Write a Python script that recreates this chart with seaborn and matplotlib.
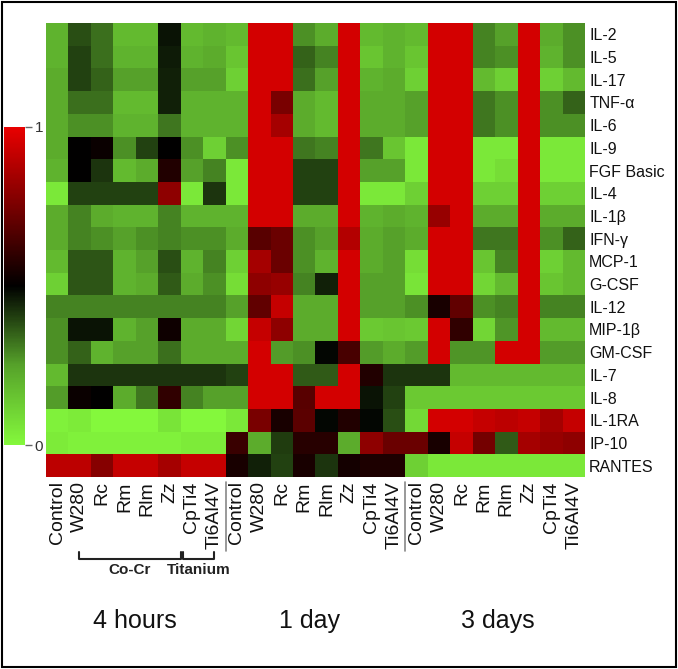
import numpy as np
import pandas as pd
import matplotlib
matplotlib.use("Agg")
import matplotlib.pyplot as plt
import seaborn as sns
from matplotlib.colors import LinearSegmentedColormap
from matplotlib.patches import Rectangle

sns.set_style("white")
plt.rcParams['font.family'] = ['Liberation Sans', 'DejaVu Sans']

# cytokines (rows) and materials (columns in each time block)
cytokines = ["IL-2", "IL-5", "IL-17", "TNF-α", "IL-6", "IL-9", "FGF Basic", "IL-4",
             "IL-1β", "IFN-γ", "MCP-1", "G-CSF", "IL-12", "MIP-1β", "GM-CSF",
             "IL-7", "IL-8", "IL-1RA", "IP-10", "RANTES"]
materials = ["Control", "W280", "Rc", "Rm", "Rlm", "Zz", "CpTi4", "Ti6Al4V"]
timepoints = ["4 hours", "1 day", "3 days"]

# normalised expression, 4 hours
h4 = [
    [0.20, 0.38, 0.33, 0.18, 0.18, 0.47, 0.18, 0.20],
    [0.20, 0.40, 0.33, 0.20, 0.20, 0.46, 0.20, 0.22],
    [0.22, 0.40, 0.35, 0.25, 0.25, 0.45, 0.25, 0.25],
    [0.22, 0.33, 0.33, 0.18, 0.18, 0.45, 0.20, 0.20],
    [0.22, 0.28, 0.28, 0.20, 0.20, 0.32, 0.20, 0.20],
    [0.22, 0.50, 0.52, 0.28, 0.40, 0.50, 0.28, 0.12],
    [0.20, 0.50, 0.42, 0.18, 0.22, 0.57, 0.25, 0.30],
    [0.05, 0.40, 0.40, 0.40, 0.40, 0.80, 0.05, 0.42],
    [0.22, 0.30, 0.22, 0.20, 0.20, 0.30, 0.20, 0.20],
    [0.22, 0.30, 0.28, 0.25, 0.28, 0.30, 0.28, 0.28],
    [0.18, 0.37, 0.37, 0.20, 0.25, 0.38, 0.20, 0.30],
    [0.12, 0.37, 0.37, 0.20, 0.22, 0.36, 0.22, 0.28],
    [0.30, 0.30, 0.30, 0.30, 0.30, 0.30, 0.30, 0.30],
    [0.28, 0.47, 0.47, 0.20, 0.25, 0.53, 0.22, 0.22],
    [0.28, 0.35, 0.20, 0.25, 0.25, 0.33, 0.22, 0.22],
    [0.18, 0.42, 0.42, 0.42, 0.42, 0.42, 0.42, 0.42],
    [0.26, 0.52, 0.50, 0.22, 0.32, 0.60, 0.30, 0.25],
    [0.02, 0.04, 0.00, 0.00, 0.00, 0.06, 0.00, 0.00],
    [0.04, 0.02, 0.02, 0.02, 0.02, 0.02, 0.04, 0.04],
    [0.90, 0.90, 0.78, 0.92, 0.92, 0.85, 0.92, 0.92],
]

# 1 day
d1 = [
    [0.18, 0.95, 0.95, 0.28, 0.22, 0.95, 0.18, 0.20],
    [0.15, 0.95, 0.95, 0.35, 0.30, 0.95, 0.15, 0.20],
    [0.12, 0.95, 0.95, 0.33, 0.25, 0.95, 0.20, 0.22],
    [0.20, 0.95, 0.75, 0.22, 0.18, 0.95, 0.22, 0.22],
    [0.20, 0.95, 0.85, 0.22, 0.18, 0.95, 0.22, 0.22],
    [0.28, 0.95, 0.95, 0.32, 0.30, 0.95, 0.32, 0.15],
    [0.05, 0.95, 0.95, 0.40, 0.40, 0.95, 0.25, 0.25],
    [0.05, 0.95, 0.95, 0.40, 0.40, 0.95, 0.05, 0.05],
    [0.20, 0.95, 0.95, 0.22, 0.22, 0.95, 0.20, 0.22],
    [0.22, 0.68, 0.72, 0.28, 0.25, 0.88, 0.22, 0.25],
    [0.12, 0.85, 0.72, 0.28, 0.20, 0.95, 0.22, 0.25],
    [0.08, 0.80, 0.82, 0.30, 0.45, 0.95, 0.25, 0.25],
    [0.25, 0.70, 0.92, 0.22, 0.22, 0.95, 0.25, 0.25],
    [0.10, 0.92, 0.80, 0.22, 0.22, 0.95, 0.14, 0.15],
    [0.22, 0.95, 0.26, 0.28, 0.49, 0.65, 0.26, 0.22],
    [0.40, 0.95, 0.95, 0.36, 0.36, 0.95, 0.57, 0.42],
    [0.25, 0.95, 0.95, 0.68, 0.95, 0.95, 0.47, 0.40],
    [0.05, 0.75, 0.55, 0.69, 0.49, 0.57, 0.49, 0.38],
    [0.62, 0.22, 0.41, 0.58, 0.58, 0.22, 0.80, 0.72],
    [0.55, 0.45, 0.40, 0.55, 0.42, 0.54, 0.56, 0.56],
]

# 3 days
d3 = [
    [0.18, 0.95, 0.95, 0.30, 0.25, 0.95, 0.22, 0.28],
    [0.15, 0.95, 0.95, 0.30, 0.28, 0.95, 0.20, 0.28],
    [0.12, 0.95, 0.95, 0.18, 0.12, 0.95, 0.12, 0.18],
    [0.25, 0.95, 0.95, 0.32, 0.28, 0.95, 0.28, 0.35],
    [0.25, 0.95, 0.95, 0.32, 0.28, 0.95, 0.28, 0.28],
    [0.05, 0.95, 0.95, 0.05, 0.05, 0.95, 0.05, 0.05],
    [0.05, 0.95, 0.95, 0.05, 0.08, 0.95, 0.05, 0.05],
    [0.12, 0.95, 0.95, 0.12, 0.12, 0.95, 0.12, 0.12],
    [0.20, 0.82, 0.95, 0.22, 0.22, 0.95, 0.22, 0.22],
    [0.22, 0.95, 0.95, 0.32, 0.32, 0.95, 0.28, 0.35],
    [0.08, 0.95, 0.95, 0.15, 0.30, 0.95, 0.12, 0.18],
    [0.06, 0.95, 0.95, 0.10, 0.18, 0.95, 0.15, 0.18],
    [0.28, 0.55, 0.70, 0.28, 0.30, 0.95, 0.30, 0.30],
    [0.14, 0.95, 0.60, 0.10, 0.27, 0.95, 0.18, 0.18],
    [0.26, 0.95, 0.27, 0.27, 0.95, 0.95, 0.26, 0.26],
    [0.42, 0.42, 0.18, 0.18, 0.18, 0.18, 0.18, 0.18],
    [0.14, 0.14, 0.14, 0.14, 0.14, 0.14, 0.14, 0.14],
    [0.09, 0.95, 0.95, 0.92, 0.90, 0.92, 0.85, 0.92],
    [0.72, 0.55, 0.92, 0.74, 0.36, 0.85, 0.82, 0.80],
    [0.12, 0.05, 0.05, 0.05, 0.05, 0.05, 0.05, 0.05],
]

values = np.hstack([np.array(h4), np.array(d1), np.array(d3)])
cols = [f"{t} {m}" for t in timepoints for m in materials]
df = pd.DataFrame(values, index=cytokines, columns=cols)

# green -> black -> red, greens kept bright like the original figure
cmap = LinearSegmentedColormap.from_list(
    "grk", [(0.0, "#84f83c"), (0.25, "#56a22a"), (0.5, "#000000"),
            (0.75, "#780000"), (1.0, "#e80000")])

fig = plt.figure(figsize=(6.78, 6.69), dpi=100)
ax = fig.add_axes([0.0678, 0.2870, 0.7950, 0.6786])
cax = fig.add_axes([0.0065, 0.3348, 0.0305, 0.4754])

sns.heatmap(df, cmap=cmap, vmin=0, vmax=1, ax=ax, cbar_ax=cax,
            xticklabels=materials * 3, yticklabels=cytokines)

ax.yaxis.tick_right()
ax.tick_params(axis='both', length=0, pad=3)
ax.set_yticklabels(cytokines, rotation=0, fontsize=11.5, color='#111111')
ax.set_xticklabels(materials * 3, rotation=90, fontsize=14, color='#111111')
ax.set_xlabel("")
ax.set_ylabel("")

cbar = ax.collections[0].colorbar
cbar.set_ticks([0, 1])
cbar.set_ticklabels(["0", "1"])
cbar.outline.set_visible(False)
cax.tick_params(length=5, width=1, color='#666666', labelsize=11, pad=2, labelcolor='#333333')

# separators between time blocks
n = len(materials)
for k in (1, 2):
    ax.plot([k * n, k * n], [-0.01, -0.163], color='#888888', lw=1.2,
            transform=ax.get_xaxis_transform(), clip_on=False)

# material group brackets
tr = ax.get_xaxis_transform()
for x0, x1, lab in [(1.45, 6.0, "Co-Cr"), (6.1, 7.5, "Titanium")]:
    ax.plot([x0, x0, x1, x1], [-0.166, -0.181, -0.181, -0.166], color='#222222',
            lw=1.5, transform=tr, clip_on=False)
    ax.text((x0 + x1) / 2, -0.205, lab, transform=tr, ha='center', va='center',
            fontsize=11, fontweight='bold', color='#222222')

# time labels
for xc, t in zip([3.95, 11.75, 20.1], timepoints):
    ax.text(xc, -0.318, t, transform=tr, ha='center', va='center', fontsize=18,
            color='#111111')

fig.patches.append(Rectangle((0.003, 0.003), 0.994, 0.994, transform=fig.transFigure,
                             fill=False, ec='black', lw=1.5))

fig.savefig("out.png", dpi=100)
